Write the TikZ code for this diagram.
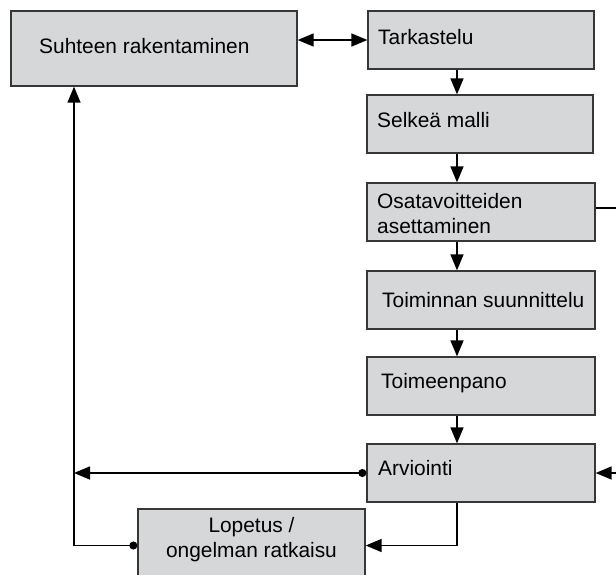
\documentclass[tikz,border=0pt]{standalone}
\usepackage{fontspec}
\setmainfont{Liberation Sans}
\usetikzlibrary{arrows.meta}
\definecolor{boxfill}{RGB}{214,215,217}
\definecolor{boxline}{RGB}{55,55,55}
\begin{document}
\begin{tikzpicture}[x=1pt,y=-1pt,
  box/.style={draw=boxline, line width=1.3pt, fill=boxfill, rectangle, inner sep=0pt},
  rbox/.style={box, minimum width=228pt, minimum height=58pt},
  lbl/.style={anchor=base west, inner sep=0pt, font=\fontsize{20.9}{25}\selectfont},
  clbl/.style={lbl, anchor=base},
  conn/.style={line width=1.5pt, black},
  tri/.tip={Triangle[length=16pt,width=13pt]},
  dot/.tip={Circle[length=8pt]},
  arr/.style={conn, -tri},
  dotarr/.style={conn, dot-tri},
  biarr/.style={conn, tri-tri}]
\useasboundingbox (0,0) rectangle (616,574);

% boxes
\node[box, minimum width=286pt, minimum height=75pt] (b1) at (154,48.5) {};
\node[rbox, minimum width=226pt] (tark) at (481,40) {};
\node[rbox, minimum width=226pt] (selk) at (480,124) {};
\node[rbox] (osat) at (481,212) {};
\node[rbox] (toim) at (481,300) {};
\node[rbox] (toimeen) at (481,386) {};
\node[rbox] (arv) at (481,473) {};
\node[box, minimum width=227pt, minimum height=73pt] (lop) at (251.5,545.5) {};

% texts
\node[lbl] (t1) at (39,53) {Suhteen rakentaminen};
\node[lbl] (t2) at (378,44) {Tarkastelu};
\node[lbl] (t3) at (377,127) {Selkeä malli};
\node[lbl] (t4a) at (377,208) {Osatavoitteiden};
\node[lbl] (t4b) at (377,233) {asettaminen};
\node[lbl] (t5) at (382,307) {Toiminnan suunnittelu};
\node[lbl] (t6) at (381,388) {Toimeenpano};
\node[lbl] (t7) at (378,475) {Arviointi};
\node[clbl] (t8a) at (251.5,532) {Lopetus /};
\node[clbl] (t8b) at (251.5,557) {ongelman ratkaisu};

% helper coordinates
\coordinate (colx) at (457,0);
\coordinate (jn) at (74,473);
\coordinate (rr) at (622,208);

% connectors
\draw[biarr] (b1.east |- tark.west) -- (tark.west);
\draw[arr] (tark.south -| colx) -- (selk.north -| colx);
\draw[arr] (selk.south -| colx) -- (osat.north -| colx);
\draw[arr] (osat.south -| colx) -- (toim.north -| colx);
\draw[arr] (toim.south -| colx) -- (toimeen.north -| colx);
\draw[arr] (toimeen.south -| colx) -- (arv.north -| colx);
\draw[arr] (osat.east |- rr) -- (rr) |- (arv.east);
\draw[dotarr] (arv.west) -- (jn);
\draw[arr] (arv.south -| colx) |- (lop.east);
\draw[dotarr] (lop.west) -| (jn) -- (jn |- b1.south);
\end{tikzpicture}
\end{document}
